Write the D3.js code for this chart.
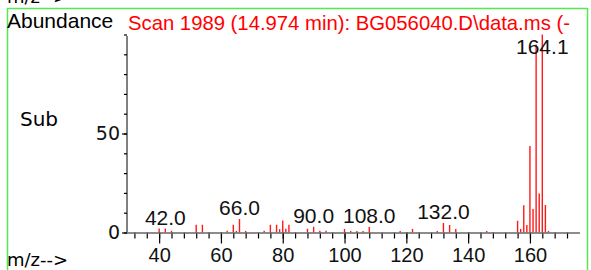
<!DOCTYPE html>
<html>
<head>
<meta charset="utf-8">
<script src="https://cdn.jsdelivr.net/npm/d3@7"></script>
<style>
  body { margin: 0; background: #fff; }
  svg { display: block; }
</style>
</head>
<body>
<svg id="chart"></svg>
<script>
var width = 591, height = 270;

// spectrum data (m/z, abundance %)
var mz = [40, 42, 44, 52, 54, 62, 64, 65, 66, 68, 74, 76, 78, 79, 80, 81, 82, 88, 90, 92, 94,
          100, 102, 104, 106, 108, 118, 122, 130, 132, 134, 136, 146,
          156, 157, 158, 159, 160, 161, 162, 163, 164, 165, 166];
var abund = [2, 2, 0.9, 3.9, 3.9, 0.9, 3.9, 0.8, 6.8, 0.8, 0.9, 3.9, 3.9, 1.7, 6, 1.9, 3.9, 1.9, 2.9, 0.9, 0.9,
             1.8, 0.8, 0.8, 0.8, 2.8, 0.8, 1.8, 0.8, 4.8, 3.8, 1.8, 0.8,
             5.9, 1.8, 13.8, 3.8, 43.7, 11.9, 95, 19.7, 100, 13.9, 0.8];

var labelMz = [42, 66, 90, 108, 132, 164];
var labelText = ["42.0", "66.0", "90.0", "108.0", "132.0", "164.1"];

var xMajor = [40, 60, 80, 100, 120, 140, 160];
var xMinor = d3.range(32, 173, 4);
var yMajor = [0, 50];
var yMinor = d3.range(0, 101, 10);

var title = "Scan 1989 (14.974 min): BG056040.D\\data.ms (-";

var svg = d3.select("#chart")
    .attr("width", width)
    .attr("height", height);

var x = d3.scaleLinear().domain([29.6, 176.2]).range([127, 580]);
var y = d3.scaleLinear().domain([0, 100]).range([232.5, 34.5]);

svg.append("defs").append("clipPath").attr("id", "box")
    .append("rect").attr("x", 7).attr("y", 0).attr("width", 581).attr("height", height);

// leftover of the panel above
svg.append("text")
    .attr("x", 7).attr("y", 3)
    .style("font-family", "DejaVu Sans").style("font-size", "18px")
    .text("m/z-->");

// panel border
svg.append("path")
    .attr("d", "M7.5," + height + "V8.5H587.5V" + height)
    .attr("fill", "none")
    .attr("stroke", "#55ea55")
    .attr("stroke-width", 1.5);

var g = svg.append("g").attr("clip-path", "url(#box)");

g.append("text")
    .attr("x", 7).attr("y", 27.5)
    .style("font-family", "Liberation Sans, Arial").style("font-size", "21px")
    .attr("fill", "#000")
    .text("Abundance");

g.append("text")
    .attr("x", 128).attr("y", 29.5)
    .style("font-family", "Liberation Sans, Arial").style("font-size", "20.3px")
    .attr("fill", "#ff0000")
    .text(title);

g.append("text")
    .attr("x", 20).attr("y", 126)
    .style("font-family", "DejaVu Sans").style("font-size", "20px")
    .text("Sub");

g.append("text")
    .attr("x", 7).attr("y", 266)
    .style("font-family", "DejaVu Sans").style("font-size", "18px")
    .text("m/z-->");

// y axis
var yMinorAxis = g.append("g")
    .attr("transform", "translate(127,0)")
    .call(d3.axisLeft(y).tickValues(yMinor).tickSize(3).tickFormat(""));
yMinorAxis.select(".domain").remove();

var yAxis = g.append("g")
    .attr("transform", "translate(127,0)")
    .call(d3.axisLeft(y).tickValues(yMajor).tickSize(5).tickPadding(2));
yAxis.select(".domain").attr("d", "M0," + (y(100) + 1.5) + "V" + y(0));
yAxis.selectAll("text")
    .style("font-family", "DejaVu Sans").style("font-size", "19px")
    .attr("fill", "#111");

// x axis
var xMinorAxis = g.append("g")
    .attr("transform", "translate(0," + y(0) + ")")
    .call(d3.axisBottom(x).tickValues(xMinor).tickSize(6).tickFormat(""));
xMinorAxis.select(".domain").remove();

var xAxis = g.append("g")
    .attr("transform", "translate(0," + y(0) + ")")
    .call(d3.axisBottom(x).tickValues(xMajor).tickSize(11).tickPadding(4));
xAxis.select(".domain").remove();
xAxis.selectAll("text")
    .style("font-family", "Liberation Sans, Arial").style("font-size", "20px")
    .attr("fill", "#111");
g.selectAll(".tick line").attr("stroke-width", 1.2);

// peaks
g.append("g").selectAll("line")
    .data(mz)
    .join("line")
    .attr("x1", function(d) { return x(d); })
    .attr("x2", function(d) { return x(d); })
    .attr("y1", y(0))
    .attr("y2", function(d, i) { return y(abund[i]); })
    .attr("stroke", "#ff1a1a")
    .attr("stroke-width", 1.4);

// baseline
g.append("line")
    .attr("x1", x.range()[0]).attr("x2", x.range()[1])
    .attr("y1", y(0) + 0.5).attr("y2", y(0) + 0.5)
    .attr("stroke", "#666")
    .attr("stroke-width", 1.6);

// peak labels
g.append("g").selectAll("text")
    .data(labelMz)
    .join("text")
    .attr("x", function(d) { return x(d); })
    .attr("y", function(d) {
        var top = y(abund[mz.indexOf(d)]);
        return Math.max(top - 4, 54);
    })
    .attr("text-anchor", "middle")
    .style("font-family", "Liberation Sans, Arial").style("font-size", "21px")
    .attr("fill", "#111")
    .text(function(d, i) { return labelText[i]; });
</script>
</body>
</html>
